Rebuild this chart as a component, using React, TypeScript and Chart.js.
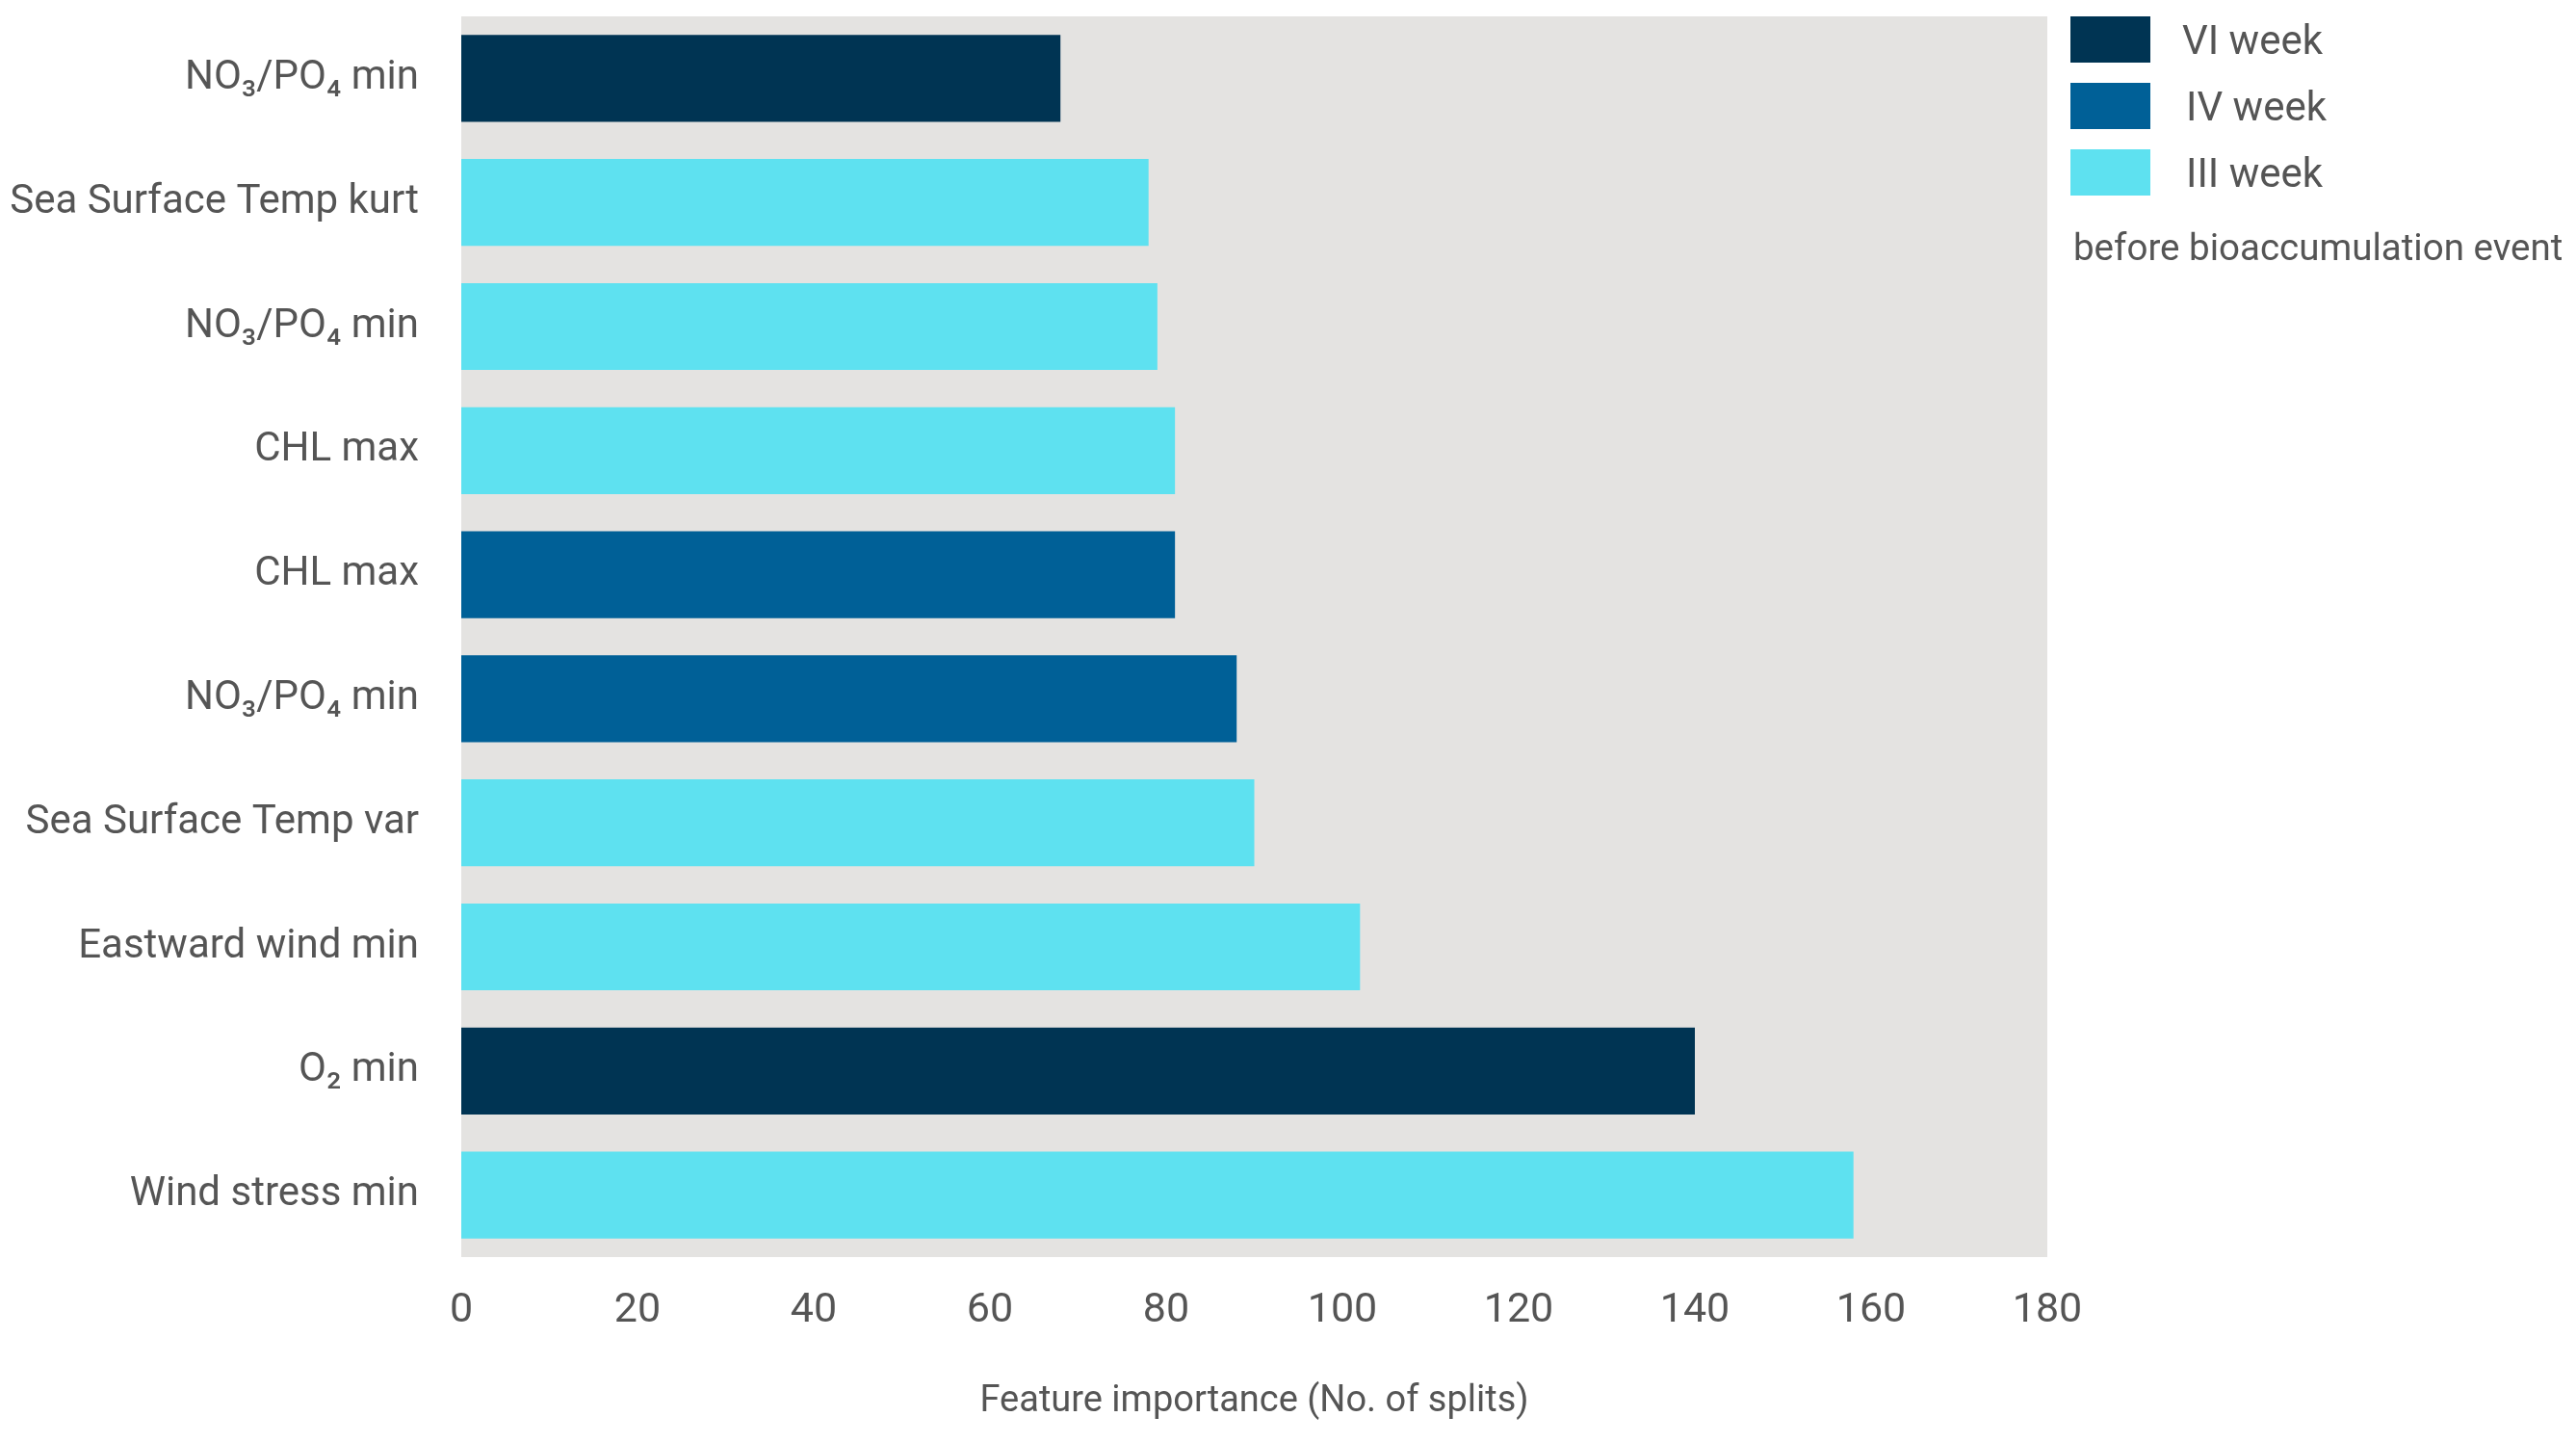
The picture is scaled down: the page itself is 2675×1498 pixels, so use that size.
import { useEffect, useRef } from 'react';
import { Chart, registerables } from 'chart.js';

Chart.register(...registerables);

const categories = [
  'NO₃/PO₄ min',
  'Sea Surface Temp kurt',
  'NO₃/PO₄ min',
  'CHL max',
  'CHL max',
  'NO₃/PO₄ min',
  'Sea Surface Temp var',
  'Eastward wind min',
  'O₂ min',
  'Wind stress min',
];

const weekVI = [68, null, null, null, null, null, null, null, 140, null];
const weekIV = [null, null, null, null, 81, 88, null, null, null, null];
const weekIII = [null, 78, 79, 81, null, null, 90, 102, null, 158];

const seriesLabels = ['VI week', 'IV week', 'III week'];
const seriesColors = ['#003453', '#006097', '#5ee1f0'];
const legendNote = 'before bioaccumulation event';
const xAxisTitle = 'Feature importance (No. of splits)';
const xMin = 0;
const xMax = 180;
const xStep = 20;

const FAMILY = "Roboto, 'Liberation Sans', sans-serif";
const TEXT = '#555555';
const W = 2675;
const H = 1498;

const bgPlugin = {
  id: 'plotBg',
  beforeDraw(chart: any) {
    const { ctx, chartArea } = chart;
    ctx.save();
    ctx.fillStyle = '#e4e3e1';
    ctx.fillRect(chartArea.left, chartArea.top, chartArea.right - chartArea.left, chartArea.bottom - chartArea.top);
    ctx.restore();
  },
};

const legendPlugin = {
  id: 'sideLegend',
  afterDraw(chart: any) {
    const { ctx, chartArea } = chart;
    const x0 = chartArea.right + 24;
    ctx.save();
    chart.data.datasets.forEach((ds: any, i: number) => {
      const top = chartArea.top + i * 69;
      ctx.fillStyle = ds.backgroundColor;
      ctx.fillRect(x0, top, 83, 48);
      ctx.fillStyle = TEXT;
      ctx.font = `42px ${FAMILY}`;
      ctx.textBaseline = 'middle';
      ctx.textAlign = 'left';
      ctx.fillText(ds.label, x0 + 116 + (i > 0 ? 4 : 0), top + 28);
    });
    ctx.font = `38.5px ${FAMILY}`;
    ctx.fillStyle = TEXT;
    ctx.textBaseline = 'middle';
    ctx.fillText(legendNote, x0 + 3, chartArea.top + 243);
    ctx.restore();
  },
};

export default function App() {
  const ref = useRef<HTMLCanvasElement | null>(null);

  useEffect(() => {
    document.body.style.margin = '0';
    const canvas = ref.current;
    if (!canvas) return;
    const chart = new Chart(canvas, {
      type: 'bar',
      data: {
        labels: categories,
        datasets: [
          { label: seriesLabels[0], data: weekVI, backgroundColor: seriesColors[0] },
          { label: seriesLabels[1], data: weekIV, backgroundColor: seriesColors[1] },
          { label: seriesLabels[2], data: weekIII, backgroundColor: seriesColors[2] },
        ] as any,
      },
      options: {
        indexAxis: 'y',
        responsive: false,
        animation: false,
        devicePixelRatio: 1,
        layout: { padding: { top: 17, right: W - 2126, left: 0, bottom: 0 } },
        datasets: {
          bar: { grouped: false, barPercentage: 0.7, categoryPercentage: 1, borderWidth: 0 },
        } as any,
        plugins: {
          legend: { display: false },
          tooltip: { enabled: false },
        },
        scales: {
          x: {
            type: 'linear',
            min: xMin,
            max: xMax,
            ticks: {
              stepSize: xStep,
              color: TEXT,
              font: { family: FAMILY, size: 43 },
              padding: 30,
            },
            grid: { display: false, drawTicks: false },
            border: { display: false },
            title: {
              display: true,
              text: xAxisTitle,
              color: TEXT,
              font: { family: FAMILY, size: 38 },
              padding: 20,
            },
            afterFit: (s: any) => {
              s.height = H - 1305;
              s.paddingLeft = 0;
              s.paddingRight = 0;
            },
          },
          y: {
            type: 'category',
            ticks: {
              color: TEXT,
              font: { family: FAMILY, size: 42 },
              padding: 44,
              autoSkip: false,
            },
            grid: { display: false, drawTicks: false },
            border: { display: false },
            afterFit: (s: any) => {
              s.width = 479;
              s.paddingTop = 0;
              s.paddingBottom = 0;
            },
          },
        },
      } as any,
      plugins: [bgPlugin, legendPlugin],
    });
    return () => chart.destroy();
  }, []);

  return (
    <canvas
      ref={ref}
      width={W}
      height={H}
      style={{ position: 'absolute', left: 0, top: 0, width: W, height: H }}
    />
  );
}
